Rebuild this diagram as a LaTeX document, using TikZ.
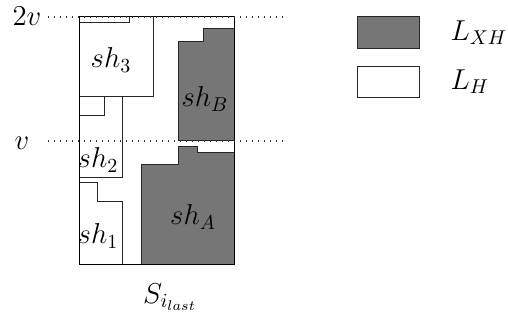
\documentclass[tikz,border=0pt]{standalone}
\usetikzlibrary{positioning}
\definecolor{xhgrey}{RGB}{118,118,118}
\begin{document}
\begin{tikzpicture}[x=0.5pt, y=-0.5pt, line width=0.5pt,
    every node/.style={font=\Large},
    lxh/.style={draw=black!85, fill=xhgrey},
    lh/.style={draw=black!85, fill=white},
    lvl/.style={line width=0.6pt, black!80, dash pattern=on 0.6pt off 2.4pt},
    key/.style={minimum width=31pt, minimum height=15.8pt, inner sep=0pt}]
  \useasboundingbox (0,0) rectangle (508,320);
  \def\vtop{17}  % level 2v
  \def\vmid{141} % level v

  % Pieces of type L_H
  \draw[lh] (79,17) rectangle (129,23);
  \draw[lh] (79,97) -- (153,97) -- (153,17) -- (129,17) -- (129,23) -- (79,23) -- cycle;
  \draw[lh] (79,97) rectangle (104,116);
  \draw[lh] (79,116) -- (79,178) -- (122,178) -- (122,97) -- (104,97) -- (104,116) -- cycle;
  \draw[lh] (79,264) -- (79,183) -- (97,183) -- (97,202) -- (122,202) -- (122,264) -- cycle;

  % Pieces of type L_XH
  \draw[lxh] (178,141) -- (178,42) -- (203,42) -- (203,29) -- (234,29) -- (234,141) -- cycle;
  \draw[lxh] (141,264) -- (141,165) -- (178,165) -- (178,147) -- (197,147) -- (197,153)
    -- (234,153) -- (234,264) -- cycle;

  % Bin
  \draw (79,17) rectangle (234,264);

  % Levels
  \draw[lvl] (48,\vtop) -- (283,\vtop);
  \draw[lvl] (48,\vmid) -- (283,\vmid);
  \node (lv2) at (27,16) {$2v$};
  \node (lv1) at (22,143) {$v$};

  % Labels
  \node (sh3) at (111,60) {$sh_3$};
  \node (shB) at (205,99) {$sh_B$};
  \node (sh2) at (98,160) {$sh_2$};
  \node (sh1) at (98,236) {$sh_1$};
  \node (shA) at (193,217) {$sh_A$};
  \node (bin) at (170,297) {$S_{i_{last}}$};

  % Legend
  \node[lxh, key] (kxh) at (388,32.5) {};
  \node[lh, key] (kh) at (388,82) {};
  \node[right=12pt of kxh] (txh) {$L_{XH}$};
  \node[right=12pt of kh] (th) {$L_H$};
\end{tikzpicture}
\end{document}
